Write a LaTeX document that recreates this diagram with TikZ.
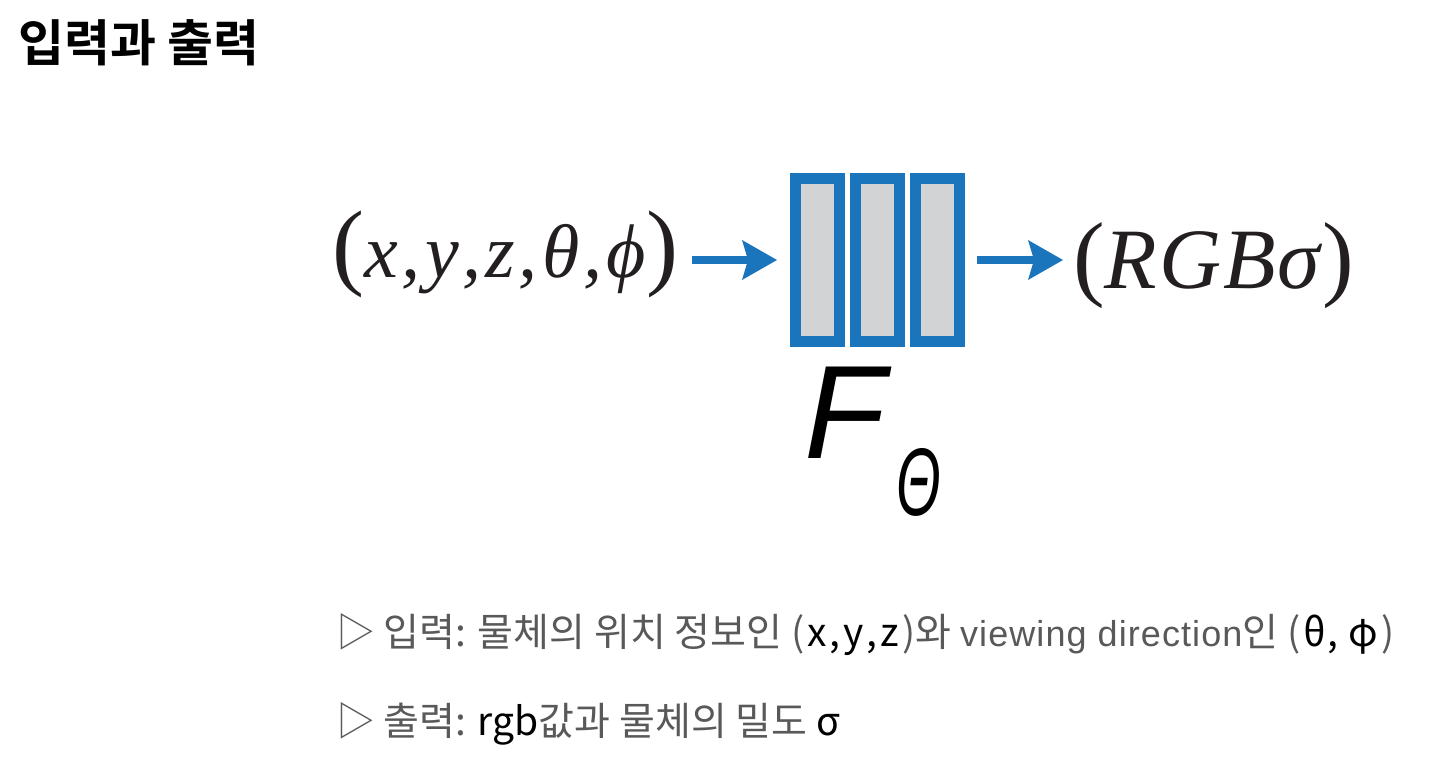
\documentclass[tikz,border=0pt]{standalone}
\usepackage{fontspec}
\usetikzlibrary{arrows.meta}
\setmainfont{Liberation Serif}
\newfontfamily\sansf{Liberation Sans}
\newfontfamily\sansw{Liberation Sans}[LetterSpace=3]
\newfontfamily\krfont{Noto Sans CJK KR}[BoldFont={Noto Sans CJK KR Bold}]
\definecolor{nblue}{HTML}{1B75BC}
\definecolor{ngray}{HTML}{D1D3D4}
\definecolor{tdark}{HTML}{231F20}
\definecolor{tgray}{HTML}{595959}
\newcommand{\ks}{\kern3pt}
\tikzset{
  layer/.style={draw=nblue, fill=ngray, line width=11pt, minimum width=44pt,
    minimum height=163pt, inner sep=0pt, outer sep=0pt},
  arr/.style={nblue, line width=8pt,
    -{Stealth[length=35pt, width=40pt, inset=6pt, line width=0pt]}},
  txt/.style={anchor=base west, inner sep=0pt, outer sep=0pt},
}
\begin{document}
\begin{tikzpicture}[x=1pt,y=-1pt]
\useasboundingbox (0,0) rectangle (1453,759);
% title
\node[txt, font=\krfont\bfseries\fontsize{50}{50}\selectfont] (title) at (18,62) {입력과 출력};
% network layers
\node[layer] (b1) at (817.5,260) {};
\node[layer] (b2) at (877.5,260) {};
\node[layer] (b3) at (937.5,260) {};
% input
\node[anchor=base east, inner sep=0pt, outer sep=0pt, text=tdark] (inp) at (678,277)
  {{\fontsize{96}{96}\selectfont(}{\itshape\fontsize{76}{76}\selectfont x\kern3.5pt,\kern4.5pt y\kern3.5pt,\kern4.5pt z\kern3.5pt,\kern4.5pt θ\kern3.5pt,\kern4.5pt ϕ}{\fontsize{96}{96}\selectfont)}};
% output
\node[txt, text=tdark] (out) at (1073,288)
  {{\fontsize{95}{95}\selectfont(}{\itshape\fontsize{86}{86}\selectfont R\kern2pt G\kern2pt B\kern2pt σ}{\fontsize{95}{95}\selectfont\kern2pt)}};
% arrows
\draw[arr, shorten <=14pt, shorten >=18.5pt] (inp.east |- b1.west) -- (b1.west);
\draw[arr, shorten <=17.5pt, shorten >=10pt] (b3.east) -- (out.west |- b3.east);
% F_Theta
\node[txt, text=black, font=\sansf\itshape\fontsize{133}{133}\selectfont] (F) at (804,458) {F};
\node[txt, text=black, font=\sansf\itshape\fontsize{96}{96}\selectfont] (Th) at (896,515) {\scalebox{0.6}[1]{Θ}};
% bullet lines
\node[txt, font=\krfont\fontsize{39}{39}\selectfont] (l1) at (336,646)
  {\color{tgray}▷ 입력: 물체의 위치 정보인 (\ks\color{black}x\ks,\ks y\ks,\ks z\ks\color{tgray})와 {\sansw\fontsize{36}{36}\selectfont viewing direction}인 (\ks\color{black}θ\kern1pt, \kern2pt φ\ks\color{tgray})};
\node[txt, font=\krfont\fontsize{39}{39}\selectfont] (l2) at (336,735)
  {\color{tgray}▷ 출력: \color{black}rgb\color{tgray}값과 물체의 밀도 \color{black}σ};
\end{tikzpicture}
\end{document}
